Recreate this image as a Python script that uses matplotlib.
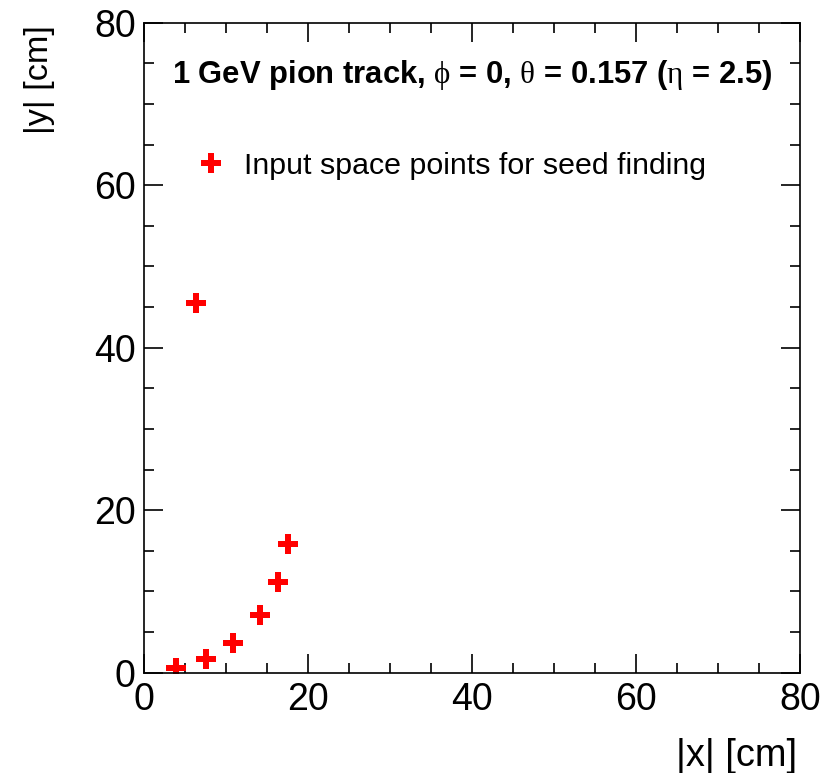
import matplotlib
matplotlib.use('Agg')
import matplotlib.pyplot as plt
from matplotlib.ticker import MultipleLocator

plt.rcParams['font.family'] = ['Liberation Sans', 'DejaVu Sans']
plt.rcParams['mathtext.fontset'] = 'custom'
plt.rcParams['mathtext.rm'] = 'Liberation Serif'
plt.rcParams['mathtext.it'] = 'Liberation Serif'

# space points
x_cm = [3.9, 7.55, 10.8, 14.15, 16.4, 17.5, 6.4]
y_cm = [0.55, 1.7, 3.7, 7.1, 11.2, 15.8, 45.5]

title = r'1 GeV pion track, $\phi$ = 0, $\theta$ = 0.157 ($\eta$ = 2.5)'
legend_label = 'Input space points for seed finding'

fig = plt.figure(figsize=(8.22, 7.73), dpi=100)
ax = fig.add_axes([144/822, 1 - 672.7/773, 656/822, 650/773])

ax.plot(x_cm, y_cm, linestyle='none', marker='P', markersize=14,
        color='#ff0000', markeredgewidth=0, label=legend_label)

ax.set_xlim(0, 80)
ax.set_ylim(0, 80)
ax.xaxis.set_major_locator(MultipleLocator(20))
ax.xaxis.set_minor_locator(MultipleLocator(5))
ax.yaxis.set_major_locator(MultipleLocator(20))
ax.yaxis.set_minor_locator(MultipleLocator(5))
ax.tick_params(which='both', direction='in', top=True, right=True,
               labelsize=27, width=1.2)
ax.tick_params(axis='x', which='major', length=14, pad=7)
ax.tick_params(axis='x', which='minor', length=7)
ax.tick_params(axis='y', which='major', length=14, pad=6)
ax.tick_params(axis='y', which='minor', length=7)
for s in ax.spines.values():
    s.set_linewidth(1.2)

ax.set_xlabel('|x| [cm]', fontsize=27.4, ha='right', x=0.995, labelpad=14)
ax.set_ylabel('|y| [cm]', fontsize=24.7, ha='right', y=0.997, labelpad=28)

ax.text(0.5, 0.9195, title, transform=ax.transAxes, ha='center', va='center',
        fontsize=22.3, fontweight='bold')

ax.legend(loc='center left', bbox_to_anchor=(0.058, 0.78), frameon=False,
          fontsize=21.9, handlelength=0.9, handletextpad=0.65, borderpad=0)

fig.savefig('out.png', dpi=100)
